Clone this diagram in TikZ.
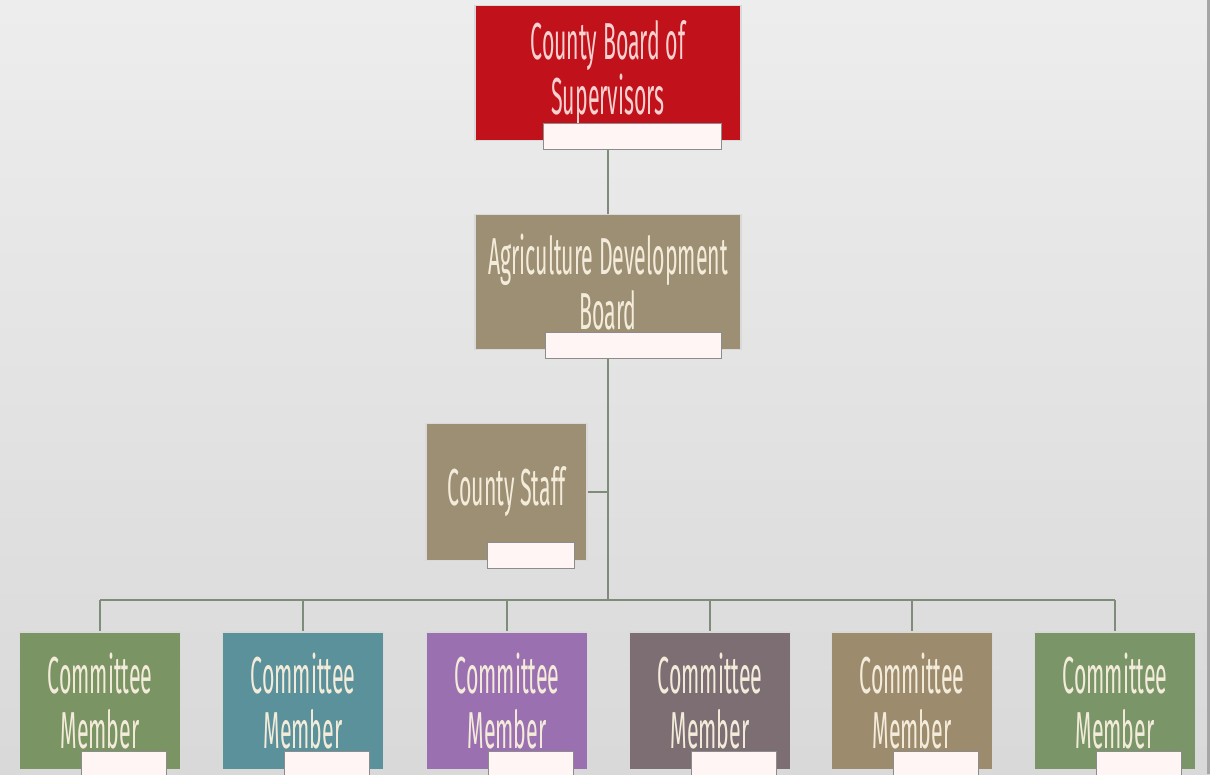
\documentclass[tikz,border=0pt]{standalone}
\usepackage{fontspec}
\usetikzlibrary{positioning,calc}
\newfontfamily\chartfont[FakeStretch=0.41]{Fira Sans}
\definecolor{boardred}{HTML}{C1121C}
\definecolor{boardtan}{HTML}{9D8F73}
\definecolor{memgreen}{HTML}{7A9464}
\definecolor{memteal}{HTML}{5B919A}
\definecolor{mempurple}{HTML}{9A70B0}
\definecolor{memmauve}{HTML}{7D6E73}
\definecolor{memtan}{HTML}{9D8B6E}
\definecolor{memsage}{HTML}{7A9669}
\definecolor{linkgray}{HTML}{7E8C7A}
\definecolor{pinkink}{HTML}{F8D2D0}
\definecolor{creamink}{HTML}{F4ECDB}

\begin{document}
\begin{tikzpicture}[
 x=1pt,y=-1pt,
 unit/.style={draw=white!85!black,line width=1.4pt,inner sep=0pt,align=center,
   text=creamink,font=\chartfont\fontsize{52}{55}\selectfont},
 bigunit/.style={unit,minimum width=266pt,minimum height=135pt},
 smallunit/.style={unit,minimum width=161pt,minimum height=137pt},
 tag/.style={draw=black!45,fill=white!96!red,line width=.8pt,inner sep=0pt,minimum height=26pt},
 link/.style={draw=linkgray,line width=1.6pt}
]
\clip (0,0) rectangle (1210,774);
\shade[shading angle=120,top color=white!93!black,bottom color=white!85!black] (0,0) rectangle (1210,774);
\draw[black!35,line width=3pt] (1208.5,0) -- (1208.5,774);

\coordinate (bus) at (608,600);

% links first, boxes on top
\draw[link] (608,148) -- (608,214);
\draw[link] (608,358) -- (bus);
\draw[link] (587,492) -- (608,492);
\draw[link] (100,600) -- (1115,600);
\foreach \x in {100,303,507,710,912,1115}
  \draw[link] (\x,600) -- (\x,632);

\node[bigunit,fill=boardred,text=pinkink] (board) at (608,73) {County Board of\\Supervisors};
\node[tag,minimum width=178pt] (boardtag) at ($(board.south)+(24,-5)$) {};

\node[bigunit,fill=boardtan] (adb) at (608,282) {Agriculture Development\\Board};
\node[tag,minimum width=176pt] (adbtag) at ($(adb.south)+(25,-5)$) {};

\node[smallunit,fill=boardtan] (staff) at (506.5,492) {County Staff};
\node[tag,minimum width=87pt] (stafftag) at ($(staff.south)+(24,-6)$) {};

\foreach \i/\x/\c in {1/100/memgreen,2/303/memteal,3/507/mempurple,4/710/memmauve,5/912/memtan,6/1115/memsage}{
  \node[smallunit,fill=\c,minimum height=138pt] (mem\i) at (\x,701) {Committee\\Member};
  \node[tag,minimum width=85pt] (mem\i tag) at ($(mem\i.south)+(24,-6)$) {};
}
\end{tikzpicture}
\end{document}
